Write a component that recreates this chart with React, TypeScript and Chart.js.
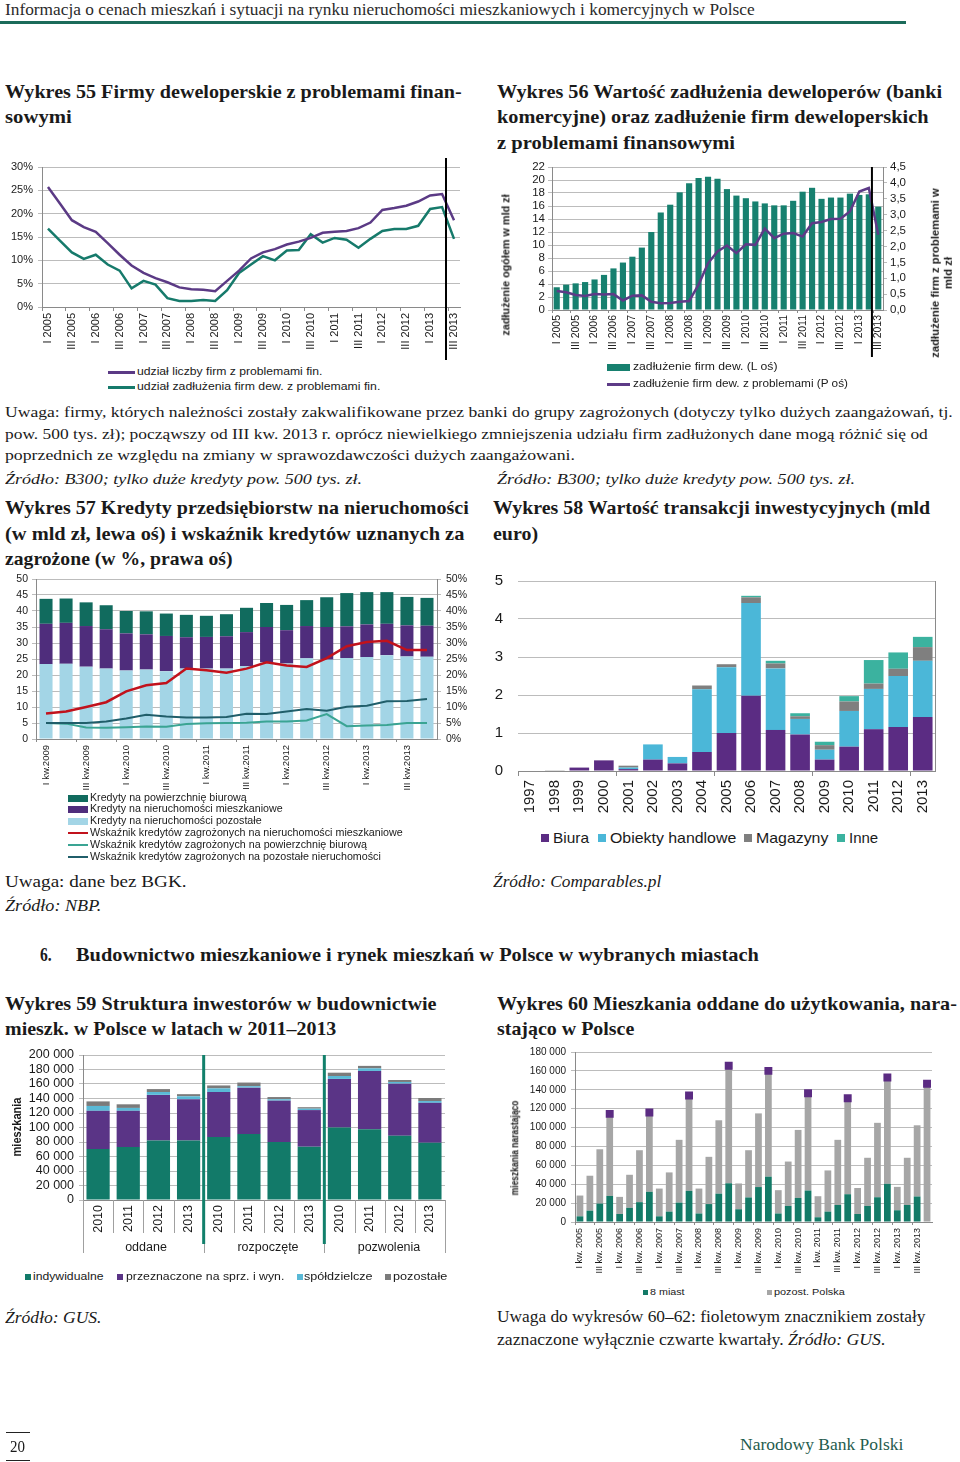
import React, { useEffect, useLayoutEffect, useRef } from 'react';
import { Chart, registerables } from 'chart.js';

Chart.register(...registerables);

const SANS = "'Liberation Sans', Arial, Helvetica, sans-serif";
const SERIF = "'Liberation Serif', 'Times New Roman', serif";
const TXT = '#1a1a1a';
const GRID = '#bcbcbc';
const AXIS = '#8a8a8a';

Chart.defaults.font.family = SANS;
Chart.defaults.color = TXT;

// ---------------- DATA ----------------
// Wykres 55 / 56 categories
const quarters0513 = [
  'I 2005', 'II 2005', 'III 2005', 'IV 2005',
  'I 2006', 'II 2006', 'III 2006', 'IV 2006',
  'I 2007', 'II 2007', 'III 2007', 'IV 2007',
  'I 2008', 'II 2008', 'III 2008', 'IV 2008',
  'I 2009', 'II 2009', 'III 2009', 'IV 2009',
  'I 2010', 'II 2010', 'III 2010', 'IV 2010',
  'I 2011', 'II 2011', 'III 2011', 'IV 2011',
  'I 2012', 'II 2012', 'III 2012', 'IV 2012',
  'I 2013', 'II 2013', 'III 2013',
];
// Wykres 55 (%)
const firmsShare55 = [25.7, 22.2, 18.6, 17.1, 16.1, 13.7, 11.2, 8.9, 7.3, 6.2, 5.3, 4.2, 3.8, 3.7, 3.4, 5.6, 7.8, 10.4, 11.7, 12.4, 13.4, 14.0, 14.8, 15.9, 16.1, 16.3, 16.9, 18.1, 20.8, 21.2, 21.7, 22.6, 23.9, 24.2, 18.6];
const debtShare55 = [16.8, 14.2, 11.7, 10.3, 11.2, 9.1, 7.8, 4.0, 5.6, 4.8, 1.9, 1.3, 1.3, 1.5, 1.3, 3.6, 7.3, 9.1, 10.9, 10.0, 12.1, 12.2, 15.6, 13.8, 14.8, 14.4, 12.7, 14.6, 16.3, 16.7, 16.7, 17.4, 21.0, 21.4, 14.6];
// Wykres 56 (mld zł)
const debtTotal56 = [3.5, 3.9, 4.1, 4.3, 4.7, 5.4, 6.4, 7.3, 8.2, 9.6, 12.0, 15.0, 16.2, 18.1, 19.5, 20.3, 20.5, 20.2, 18.6, 17.6, 17.2, 16.7, 16.4, 16.1, 16.1, 16.8, 18.2, 18.8, 17.1, 17.3, 17.3, 17.9, 17.7, 17.8, 15.9];
const debtProblem56 = [0.6, 0.56, 0.47, 0.44, 0.5, 0.49, 0.5, 0.3, 0.45, 0.46, 0.26, 0.21, 0.22, 0.26, 0.28, 0.8, 1.47, 1.84, 2.03, 1.79, 2.07, 2.05, 2.56, 2.26, 2.4, 2.42, 2.31, 2.73, 2.77, 2.86, 2.87, 3.1, 3.73, 3.84, 2.37];

// Wykres 57
const quarters57 = [
  'I kw.2009', 'II kw.2009', 'III kw.2009', 'IV kw.2009',
  'I kw.2010', 'II kw.2010', 'III kw.2010', 'IV kw.2010',
  'I kw.2011', 'II kw.2011', 'III kw.2011', 'IV kw.2011',
  'I kw.2012', 'II kw.2012', 'III kw.2012', 'IV kw.2012',
  'I kw.2013', 'II kw.2013', 'III kw.2013', 'IV kw.2013',
];
const loansOther57 = [23.4, 23.5, 22.6, 22.0, 21.4, 21.7, 21.2, 22.0, 22.0, 22.0, 22.8, 24.0, 23.6, 25.2, 24.8, 25.3, 25.6, 26.2, 25.8, 25.7];
const loansHousing57 = [12.6, 12.8, 12.7, 12.3, 11.6, 11.0, 11.0, 9.8, 9.9, 10.1, 10.6, 11.0, 10.4, 10.1, 10.2, 9.9, 10.2, 9.8, 9.7, 9.7];
const loansOffice57 = [7.8, 7.6, 7.4, 7.5, 7.0, 7.2, 7.0, 7.0, 6.6, 6.9, 7.6, 7.5, 7.9, 8.1, 9.3, 10.4, 10.1, 9.9, 8.9, 8.7];
const nplHousing57 = [8.0, 8.6, 10.0, 11.5, 14.9, 16.8, 17.5, 22.0, 21.5, 20.7, 22.0, 24.0, 23.0, 22.5, 25.3, 29.0, 30.3, 30.7, 27.8, 27.8];
const nplOffice57 = [5.0, 4.8, 3.6, 3.5, 3.7, 3.9, 3.8, 4.7, 4.9, 5.0, 5.1, 5.5, 5.5, 5.8, 7.8, 4.0, 4.2, 4.4, 5.0, 5.0];
const nplOther57 = [5.0, 5.0, 5.0, 5.5, 6.4, 7.6, 7.0, 6.7, 6.7, 6.9, 7.9, 7.8, 8.6, 9.4, 8.8, 10.1, 10.4, 11.8, 11.9, 12.5];

// Wykres 58 (mld euro)
const years58 = ['1997', '1998', '1999', '2000', '2001', '2002', '2003', '2004', '2005', '2006', '2007', '2008', '2009', '2010', '2011', '2012', '2013'];
const offices58 = [0, 0, 0.09, 0.28, 0.05, 0.3, 0.2, 0.5, 1.0, 1.98, 1.08, 0.96, 0.3, 0.64, 1.1, 1.16, 1.42];
const retail58 = [0, 0, 0, 0, 0.04, 0.4, 0.17, 1.65, 1.73, 2.44, 1.62, 0.41, 0.26, 0.94, 1.06, 1.34, 1.48];
const warehouses58 = [0, 0.02, 0, 0, 0.05, 0, 0, 0.1, 0.08, 0.15, 0.13, 0.07, 0.12, 0.25, 0.14, 0.19, 0.36];
const other58 = [0, 0, 0, 0, 0, 0, 0, 0, 0, 0.04, 0.07, 0.08, 0.09, 0.14, 0.62, 0.43, 0.27];

// Wykres 59
const years59 = ['2010', '2011', '2012', '2013', '2010', '2011', '2012', '2013', '2010', '2011', '2012', '2013'];
const groups59 = ['oddane', 'rozpoczęte', 'pozwolenia'];
const individual59 = [70300, 73000, 82000, 82000, 87000, 91000, 80000, 73500, 100000, 97500, 88700, 79000];
const forSale59 = [52700, 50000, 63000, 57000, 62000, 64000, 57000, 50500, 67000, 80500, 71800, 55000];
const cooperative59 = [6700, 4000, 4000, 4000, 5000, 2000, 2000, 2000, 4000, 3600, 2300, 2500];
const others59 = [6300, 5000, 4000, 3000, 4000, 5000, 3000, 2000, 4600, 3400, 2700, 4200];

// Wykres 60
const quarters60 = [
  'I kw. 2005', 'II kw. 2005', 'III kw. 2005', 'IV kw. 2005',
  'I kw. 2006', 'II kw. 2006', 'III kw. 2006', 'IV kw. 2006',
  'I kw. 2007', 'II kw. 2007', 'III kw. 2007', 'IV kw. 2007',
  'I kw. 2008', 'II kw. 2008', 'III kw. 2008', 'IV kw. 2008',
  'I kw. 2009', 'II kw. 2009', 'III kw. 2009', 'IV kw. 2009',
  'I kw. 2010', 'II kw. 2010', 'III kw. 2010', 'IV kw. 2010',
  'I kw. 2011', 'II kw. 2011', 'III kw. 2011', 'IV kw. 2011',
  'I kw. 2012', 'II kw. 2012', 'III kw. 2012', 'IV kw. 2012',
  'I kw. 2013', 'II kw. 2013', 'III kw. 2013', 'IV kw. 2013',
];
const cities60 = [6000, 12000, 19500, 27600, 8500, 15000, 21000, 32000, 6000, 11000, 20500, 33000, 9000, 19000, 30000, 41000, 13500, 26000, 37000, 48000, 9000, 17000, 25500, 33300, 5000, 11000, 18000, 29400, 8500, 17000, 26200, 40400, 12400, 18000, 27000, 0];
const restPoland60 = [22000, 37000, 57500, 86900, 18100, 35000, 55000, 84000, 29400, 41500, 66500, 101000, 26400, 50000, 77700, 124500, 27300, 50000, 78000, 112000, 24700, 47000, 72000, 103100, 22300, 43600, 69000, 101600, 27500, 51000, 78800, 112600, 24800, 50000, 75400, 146400];

// ---------------- COLOURS ----------------
const C55_PURPLE = '#5b3a85';
const C55_TEAL = '#167a6b';
const C56_BAR = '#17806f';
const C56_LINE = '#5d3b87';
const C57_OFFICE = '#116b5e';
const C57_HOUSING = '#4f2d7c';
const C57_OTHER = '#a3d5e6';
const C57_RED = '#c1121c';
const C57_LTEAL = '#3aa493';
const C57_DARK = '#205e6a';
const C58_OFF = '#5b2c83';
const C58_RET = '#4bb7d8';
const C58_WH = '#7f7f7f';
const C58_OTH = '#3bb29f';
const C59_IND = '#127a69';
const C59_SALE = '#5a3486';
const C59_COOP = '#5ab9d6';
const C59_OTH = '#7b7b7b';
const C60_CITY = '#137a67';
const C60_REST = '#a6a6a6';
const C60_MARK = '#5b2b82';

// ---------------- HELPERS ----------------
const thousands = (v: number) => String(Math.round(v)).replace(/\B(?=(\d{3})+(?!\d))/g, ' ');

function baseOptions(padding: any, scales: any) {
  return {
    responsive: true,
    maintainAspectRatio: false,
    animation: false,
    events: [],
    layout: { padding },
    plugins: { legend: { display: false }, tooltip: { enabled: false }, title: { display: false } },
    scales,
  };
}

function catX(height: number, size: number, tick: number, pad: number, every: number, markEvery: number, stacked = false) {
  return {
    type: 'category',
    offset: true,
    stacked,
    grid: {
      display: true,
      drawOnChartArea: false,
      offset: true,
      drawTicks: tick > 0,
      tickLength: tick,
      color: (c: any) => (typeof c.index === 'number' && c.index % markEvery === 0 ? AXIS : 'rgba(0,0,0,0)'),
    },
    border: { display: true, color: AXIS },
    ticks: {
      autoSkip: false,
      maxRotation: 90,
      minRotation: 90,
      padding: pad,
      color: TXT,
      font: { size, family: SANS },
      callback: function (this: any, v: any, i: number) {
        return i % every === 0 ? this.getLabelForValue(v) : '';
      },
    },
    afterFit: (s: any) => {
      s.height = height;
    },
  };
}

function valY(o: {
  min: number; max: number; step: number; width: number; size: number; tick: number; pad: number;
  fmt?: (v: number) => string; right?: boolean; grid?: boolean; border?: boolean; stacked?: boolean; tickColor?: string;
}) {
  return {
    type: 'linear',
    position: o.right ? 'right' : 'left',
    min: o.min,
    max: o.max,
    stacked: !!o.stacked,
    grid: {
      display: true,
      drawOnChartArea: o.grid !== false,
      color: GRID,
      tickColor: o.tickColor || GRID,
      drawTicks: o.tick > 0,
      tickLength: o.tick,
      lineWidth: 1,
    },
    border: { display: o.border !== false, color: AXIS },
    ticks: {
      autoSkip: false,
      stepSize: o.step,
      padding: o.pad,
      color: TXT,
      font: { size: o.size, family: SANS },
      callback: (v: any) => (o.fmt ? o.fmt(Number(v)) : String(v)),
    },
    afterFit: (s: any) => {
      s.width = o.width;
    },
  };
}

function vLinePlugin(labels: string[], a: string, b: string, frac: number, top: number, bottom: number) {
  return {
    id: 'vline',
    afterDatasetsDraw(chart: any) {
      const xs = chart.scales.x;
      const pa = xs.getPixelForValue(labels.indexOf(a));
      const pb = xs.getPixelForValue(labels.indexOf(b));
      const px = pa + (pb - pa) * frac;
      const ctx = chart.ctx;
      ctx.save();
      ctx.strokeStyle = '#000';
      ctx.lineWidth = 2;
      ctx.beginPath();
      ctx.moveTo(px, top);
      ctx.lineTo(px, bottom);
      ctx.stroke();
      ctx.restore();
    },
  };
}

const rightFramePlugin = {
  id: 'rframe',
  afterDraw(chart: any) {
    const a = chart.chartArea;
    const ctx = chart.ctx;
    ctx.save();
    ctx.strokeStyle = AXIS;
    ctx.lineWidth = 1;
    ctx.beginPath();
    ctx.moveTo(Math.round(a.right) + 0.5, a.top);
    ctx.lineTo(Math.round(a.right) + 0.5, a.bottom);
    ctx.stroke();
    ctx.restore();
  },
};

const groupSepPlugin = {
  id: 'groupsep',
  afterDraw(chart: any) {
    const xs = chart.scales.x;
    const a = chart.chartArea;
    const ctx = chart.ctx;
    const n = years59.length;
    const w = xs.getPixelForValue(1) - xs.getPixelForValue(0);
    const x0 = xs.getPixelForValue(0) - w / 2;
    const per = n / groups59.length;
    ctx.save();
    ctx.strokeStyle = '#a0a0a0';
    ctx.lineWidth = 1;
    for (let k = 0; k <= n; k++) {
      const px = Math.round(x0 + k * w) + 0.5;
      const len = k % per === 0 ? 53 : 33;
      ctx.beginPath();
      ctx.moveTo(px, a.bottom);
      ctx.lineTo(px, a.bottom + len);
      ctx.stroke();
    }
    ctx.strokeStyle = '#11806b';
    ctx.lineWidth = 3;
    for (let g = 1; g < groups59.length; g++) {
      const px = x0 + g * per * w;
      ctx.beginPath();
      ctx.moveTo(px, a.top);
      ctx.lineTo(px, a.bottom + 44);
      ctx.stroke();
    }
    ctx.restore();
  },
};

// ---------------- CHART CONFIGS ----------------
function make55(): any {
  return {
    type: 'line',
    data: {
      labels: quarters0513,
      datasets: [
        { data: firmsShare55, borderColor: C55_PURPLE, borderWidth: 2.5, pointRadius: 0, tension: 0, fill: false },
        { data: debtShare55, borderColor: C55_TEAL, borderWidth: 2.5, pointRadius: 0, tension: 0, fill: false },
      ],
    },
    options: baseOptions(
      { top: 12, right: 20, left: 0, bottom: 0 },
      {
        x: catX(58, 11, 4, 2, 2, 2),
        y: valY({ min: 0, max: 30, step: 5, width: 42, size: 11, tick: 4, pad: 5, fmt: (v) => v + '%' }),
      }
    ),
    plugins: [vLinePlugin(quarters0513, 'II 2013', 'III 2013', 0.33, 3, 205)],
  };
}

function make56(): any {
  return {
    type: 'bar',
    data: {
      labels: quarters0513,
      datasets: [
        { type: 'line', data: debtProblem56, yAxisID: 'y1', borderColor: C56_LINE, borderWidth: 2.5, pointRadius: 0, tension: 0, order: 0, fill: false },
        { type: 'bar', data: debtTotal56, yAxisID: 'y', backgroundColor: C56_BAR, barPercentage: 0.65, categoryPercentage: 1, order: 1 },
      ],
    },
    options: baseOptions(
      { top: 12, right: 0, left: 0, bottom: 0 },
      {
        x: catX(55, 10.5, 3, 2, 2, 2),
        y: valY({ min: 0, max: 22, step: 2, width: 62, size: 11.5, tick: 4, pad: 3 }),
        y1: valY({ min: 0, max: 4.5, step: 0.5, width: 77, size: 11.5, tick: 4, pad: 3, right: true, grid: false, fmt: (v) => v.toFixed(1).replace('.', ',') }),
      }
    ),
    plugins: [vLinePlugin(quarters0513, 'II 2013', 'III 2013', 0.33, 12, 202)],
  };
}

function make57(): any {
  const bar = { barPercentage: 0.65, categoryPercentage: 1, order: 1, yAxisID: 'y' };
  const line = { type: 'line', yAxisID: 'y1', pointRadius: 0, tension: 0, order: 0, fill: false };
  return {
    type: 'bar',
    data: {
      labels: quarters57,
      datasets: [
        { ...bar, type: 'bar', data: loansOther57, backgroundColor: C57_OTHER },
        { ...bar, type: 'bar', data: loansHousing57, backgroundColor: C57_HOUSING },
        { ...bar, type: 'bar', data: loansOffice57, backgroundColor: C57_OFFICE },
        { ...line, data: nplOther57, borderColor: C57_DARK, borderWidth: 2 },
        { ...line, data: nplOffice57, borderColor: C57_LTEAL, borderWidth: 2 },
        { ...line, data: nplHousing57, borderColor: C57_RED, borderWidth: 2.5 },
      ],
    },
    options: baseOptions(
      { top: 12, right: 0, left: 0, bottom: 0 },
      {
        x: catX(56, 9.5, 3, 3, 2, 2, true),
        y: valY({ min: 0, max: 50, step: 5, width: 36, size: 10.5, tick: 4, pad: 4, stacked: true }),
        y1: valY({ min: 0, max: 50, step: 5, width: 43, size: 10.5, tick: 4, pad: 5, right: true, grid: false, fmt: (v) => v + '%' }),
      }
    ),
  };
}

function make58(): any {
  const bar = { barPercentage: 0.8, categoryPercentage: 1 };
  return {
    type: 'bar',
    data: {
      labels: years58,
      datasets: [
        { ...bar, data: offices58, backgroundColor: C58_OFF },
        { ...bar, data: retail58, backgroundColor: C58_RET },
        { ...bar, data: warehouses58, backgroundColor: C58_WH },
        { ...bar, data: other58, backgroundColor: C58_OTH },
      ],
    },
    options: baseOptions(
      { top: 12, right: 25, left: 0, bottom: 0 },
      {
        x: catX(54, 15, 5, 4, 1, 4, true),
        y: valY({ min: 0, max: 5, step: 1, width: 38, size: 15, tick: 13, pad: 2, stacked: true, border: false, tickColor: 'rgba(0,0,0,0)' }),
      }
    ),
    plugins: [rightFramePlugin],
  };
}

function make59(): any {
  const bar = { barPercentage: 0.77, categoryPercentage: 1 };
  return {
    type: 'bar',
    data: {
      labels: years59,
      datasets: [
        { ...bar, data: individual59, backgroundColor: C59_IND },
        { ...bar, data: forSale59, backgroundColor: C59_SALE },
        { ...bar, data: cooperative59, backgroundColor: C59_COOP },
        { ...bar, data: others59, backgroundColor: C59_OTH },
      ],
    },
    options: baseOptions(
      { top: 13, right: 35, left: 0, bottom: 0 },
      {
        x: {
          type: 'category',
          offset: true,
          stacked: true,
          grid: { display: false, drawTicks: false, tickLength: 0 },
          border: { display: true, color: AXIS },
          ticks: { autoSkip: false, maxRotation: 90, minRotation: 90, padding: 5, color: TXT, font: { size: 12.5, family: SANS } },
          afterFit: (s: any) => {
            s.height = 60;
          },
        },
        y: valY({ min: 0, max: 200000, step: 20000, width: 83, size: 12.5, tick: 4, pad: 5, stacked: true, fmt: thousands }),
      }
    ),
    plugins: [groupSepPlugin],
  };
}

function make60(): any {
  const bar = { type: 'bar', barPercentage: 0.68, categoryPercentage: 1, order: 1 };
  const markers60 = quarters60.map((q, i) => (q.startsWith('IV') ? cities60[i] + restPoland60[i] : null));
  return {
    type: 'bar',
    data: {
      labels: quarters60,
      datasets: [
        { ...bar, data: cities60, backgroundColor: C60_CITY },
        { ...bar, data: restPoland60, backgroundColor: C60_REST },
        {
          type: 'line', data: markers60, showLine: false, stack: 'markers', order: 0,
          pointStyle: 'rect', pointRadius: 5.6, pointBackgroundColor: C60_MARK, pointBorderColor: C60_MARK, pointBorderWidth: 0,
        },
      ],
    },
    options: baseOptions(
      { top: 11, right: 28, left: 0, bottom: 0 },
      {
        x: catX(56, 9, 3, 3, 2, 2, true),
        y: valY({ min: 0, max: 180000, step: 20000, width: 85, size: 10, tick: 4, pad: 5, stacked: true, fmt: thousands }),
      }
    ),
  };
}

// ---------------- COMPONENTS ----------------
function ChartBox({ x, y, w, h, make }: { x: number; y: number; w: number; h: number; make: () => any }) {
  const ref = useRef<HTMLCanvasElement>(null);
  useEffect(() => {
    if (!ref.current) return;
    const c = new Chart(ref.current, make());
    return () => c.destroy();
  }, []);
  return (
    <div style={{ position: 'absolute', left: x, top: y, width: w, height: h }}>
      <canvas ref={ref} />
    </div>
  );
}

function T({
  x, y, w, size, bold, italic, sans, color, children,
}: {
  x: number; y: number; w?: number; size: number; bold?: boolean; italic?: boolean; sans?: boolean; color?: string; children: any;
}) {
  const ref = useRef<HTMLSpanElement>(null);
  useLayoutEffect(() => {
    const el = ref.current;
    if (!el || !w) return;
    const natural = el.offsetWidth;
    if (natural > 0) el.style.transform = `scaleX(${(w / natural).toFixed(4)})`;
  });
  return (
    <span
      ref={ref}
      style={{
        position: 'absolute',
        left: x,
        top: y - size * 0.6,
        fontSize: size,
        lineHeight: `${size * 1.2}px`,
        fontFamily: sans ? SANS : SERIF,
        fontWeight: bold ? 700 : 400,
        fontStyle: italic ? 'italic' : 'normal',
        color: color || TXT,
        whiteSpace: 'nowrap',
        transformOrigin: '0 50%',
        display: 'inline-block',
      }}
    >
      {children}
    </span>
  );
}

function VText({ cx, cy, size, len, lines }: { cx: number; cy: number; size: number; len?: number; lines: string[] }) {
  const ref = useRef<HTMLDivElement>(null);
  useLayoutEffect(() => {
    const el = ref.current;
    if (!el) return;
    let k = 1;
    if (len) {
      const natural = el.offsetWidth;
      if (natural > 0) k = len / natural;
    }
    el.style.transform = `translate(-50%, -50%) rotate(-90deg) scaleX(${k.toFixed(4)})`;
  });
  return (
    <div
      ref={ref}
      style={{
        position: 'absolute',
        left: cx,
        top: cy,
        fontSize: size,
        lineHeight: `${size * 1.15}px`,
        fontFamily: SANS,
        fontWeight: 700,
        color: TXT,
        whiteSpace: 'nowrap',
        textAlign: 'center',
        transform: 'translate(-50%, -50%) rotate(-90deg)',
      }}
    >
      {lines.map((l, i) => (
        <div key={i}>{l}</div>
      ))}
    </div>
  );
}

function Box({ x, y, w, h, color }: { x: number; y: number; w: number; h: number; color: string }) {
  return <div style={{ position: 'absolute', left: x, top: y - h / 2, width: w, height: h, background: color }} />;
}

function Rule({ x, y, w, h, color }: { x: number; y: number; w: number; h: number; color: string }) {
  return <div style={{ position: 'absolute', left: x, top: y, width: w, height: h, background: color }} />;
}

export default function App() {
  const TS = 19.5; // title size
  return (
    <div
      style={{
        position: 'absolute', left: 0, top: 0, width: 960, height: 1462,
        background: '#fff', overflow: 'hidden', fontFamily: SERIF, color: TXT,
      }}
    >
      {/* header */}
      <T x={5} y={10} w={750} size={16} color="#2a2a2a">
        Informacja o cenach mieszkań i sytuacji na rynku nieruchomości mieszkaniowych i komercyjnych w Polsce
      </T>
      <Rule x={0} y={21} w={906} h={3} color="#1b6b5a" />

      {/* titles 55 / 56 */}
      <T x={5} y={92} w={457} size={TS} bold>Wykres 55 Firmy deweloperskie z problemami finan-</T>
      <T x={5} y={117} w={67} size={TS} bold>sowymi</T>
      <T x={497} y={92} w={445} size={TS} bold>Wykres 56 Wartość zadłużenia deweloperów (banki</T>
      <T x={497} y={117} w={431} size={TS} bold>komercyjne) oraz zadłużenie firm deweloperskich</T>
      <T x={497} y={143} w={238} size={TS} bold>z problemami finansowymi</T>

      {/* chart 55 */}
      <ChartBox x={0} y={155} w={480} h={210} make={make55} />
      <Rule x={108} y={371} w={27} h={2.5} color={C55_PURPLE} />
      <T x={137} y={372} w={186} size={11} sans>udział liczby firm z problemami fin.</T>
      <Rule x={108} y={386} w={27} h={2.5} color={C55_TEAL} />
      <T x={137} y={387} w={243} size={11} sans>udział zadłużenia firm dew. z problemami fin.</T>

      {/* chart 56 */}
      <ChartBox x={490} y={155} w={470} h={210} make={make56} />
      <VText cx={506} cy={265} size={11.5} len={141} lines={['zadłużenie ogółem w mld zł']} />
      <VText cx={942} cy={273} size={11.5} len={170} lines={['zadłużenie firm z problemami w', 'mld zł']} />
      <Box x={607} y={367} w={23} h={7} color={C56_BAR} />
      <T x={633} y={367} w={144} size={11} sans>zadłużenie firm dew. (L oś)</T>
      <Rule x={607} y={383} w={23} h={2.5} color={C56_LINE} />
      <T x={633} y={384} w={215} size={11} sans>zadłużenie firm dew. z problemami (P oś)</T>

      {/* notes under 55/56 */}
      <T x={5} y={412} w={948} size={15.5}>
        Uwaga: firmy, których należności zostały zakwalifikowane przez banki do grupy zagrożonych (dotyczy tylko dużych zaangażowań, tj.
      </T>
      <T x={5} y={434} w={923} size={15.5}>
        pow. 500 tys. zł); począwszy od III kw. 2013 r. oprócz niewielkiego zmniejszenia udziału firm zadłużonych dane mogą różnić się od
      </T>
      <T x={5} y={455} w={570} size={15.5}>
        poprzednich ze względu na zmiany w sprawozdawczości dużych zaangażowani.
      </T>
      <T x={5} y={479} w={357} size={15.5} italic>Źródło: B300; tylko duże kredyty pow. 500 tys. zł.</T>
      <T x={497} y={479} w={358} size={15.5} italic>Źródło: B300; tylko duże kredyty pow. 500 tys. zł.</T>

      {/* titles 57 / 58 */}
      <T x={5} y={508} w={464} size={TS} bold>Wykres 57 Kredyty przedsiębiorstw na nieruchomości</T>
      <T x={5} y={534} w={459} size={TS} bold>(w mld zł, lewa oś) i wskaźnik kredytów uznanych za</T>
      <T x={5} y={559} w={227} size={TS} bold>zagrożone (w %, prawa oś)</T>
      <T x={493} y={508} w={437} size={TS} bold>Wykres 58 Wartość transakcji inwestycyjnych (mld</T>
      <T x={493} y={534} w={45} size={TS} bold>euro)</T>

      {/* chart 57 */}
      <ChartBox x={0} y={567} w={480} h={228} make={make57} />
      <Box x={68} y={798} w={20} h={7} color={C57_OFFICE} />
      <T x={90} y={798} w={157} size={10} sans>Kredyty na powierzchnię biurową</T>
      <Box x={68} y={809} w={20} h={7} color={C57_HOUSING} />
      <T x={90} y={809} w={193} size={10} sans>Kredyty na nieruchomości mieszkaniowe</T>
      <Box x={68} y={821} w={20} h={7} color={C57_OTHER} />
      <T x={90} y={821} w={172} size={10} sans>Kredyty na nieruchomości pozostałe</T>
      <Box x={68} y={833} w={20} h={2.5} color={C57_RED} />
      <T x={90} y={833} w={313} size={10} sans>Wskaźnik kredytów zagrożonych na nieruchomości mieszkaniowe</T>
      <Box x={68} y={845} w={20} h={2} color={C57_LTEAL} />
      <T x={90} y={845} w={277} size={10} sans>Wskaźnik kredytów zagrożonych na powierzchnię biurową</T>
      <Box x={68} y={857} w={20} h={2} color={C57_DARK} />
      <T x={90} y={857} w={291} size={10} sans>Wskaźnik kredytów zagrożonych na pozostałe nieruchomości</T>

      {/* chart 58 */}
      <ChartBox x={480} y={569} w={480} h={256} make={make58} />
      <Box x={541} y={838} w={8} h={8} color={C58_OFF} />
      <T x={553} y={838} w={36} size={15} sans>Biura</T>
      <Box x={598} y={838} w={8} h={8} color={C58_RET} />
      <T x={610} y={838} w={126} size={15} sans>Obiekty handlowe</T>
      <Box x={744} y={838} w={8} h={8} color={C58_WH} />
      <T x={756} y={838} w={72} size={15} sans>Magazyny</T>
      <Box x={837} y={838} w={8} h={8} color={C58_OTH} />
      <T x={849} y={838} w={29} size={15} sans>Inne</T>

      {/* notes 57/58 */}
      <T x={5} y={882} w={181} size={17}>Uwaga: dane bez BGK.</T>
      <T x={5} y={906} w={96} size={17} italic>Źródło: NBP.</T>
      <T x={493} y={882} w={168} size={17} italic>Źródło: Comparables.pl</T>

      {/* section heading */}
      <T x={40} y={955} w={12} size={TS} bold>6.</T>
      <T x={76} y={955} w={683} size={TS} bold>Budownictwo mieszkaniowe i rynek mieszkań w Polsce w wybranych miastach</T>

      {/* titles 59 / 60 */}
      <T x={5} y={1004} w={432} size={TS} bold>Wykres 59 Struktura inwestorów w budownictwie</T>
      <T x={5} y={1029} w={331} size={TS} bold>mieszk. w Polsce w latach w 2011–2013</T>
      <T x={497} y={1004} w={460} size={TS} bold>Wykres 60 Mieszkania oddane do użytkowania, nara-</T>
      <T x={497} y={1029} w={137} size={TS} bold>stająco w Polsce</T>

      {/* chart 59 */}
      <ChartBox x={0} y={1042} w={480} h={218} make={make59} />
      <VText cx={18} cy={1127} size={12} len={59} lines={['mieszkania']} />
      <div style={{ position: 'absolute', left: 86, top: 1240, width: 120, textAlign: 'center', fontFamily: SANS, fontSize: 12.5, color: TXT }}>{groups59[0]}</div>
      <div style={{ position: 'absolute', left: 208, top: 1240, width: 120, textAlign: 'center', fontFamily: SANS, fontSize: 12.5, color: TXT }}>{groups59[1]}</div>
      <div style={{ position: 'absolute', left: 329, top: 1240, width: 120, textAlign: 'center', fontFamily: SANS, fontSize: 12.5, color: TXT }}>{groups59[2]}</div>
      <Box x={25} y={1277} w={6} h={6} color={C59_IND} />
      <T x={33} y={1277} w={71} size={11.5} sans>indywidualne</T>
      <Box x={117} y={1277} w={6} h={6} color={C59_SALE} />
      <T x={126} y={1277} w={158} size={11.5} sans>przeznaczone na sprz. i wyn.</T>
      <Box x={297} y={1277} w={6} h={6} color={C59_COOP} />
      <T x={304} y={1277} w={69} size={11.5} sans>spółdzielcze</T>
      <Box x={385} y={1277} w={6} h={6} color={C59_OTH} />
      <T x={393} y={1277} w={54} size={11.5} sans>pozostałe</T>

      {/* chart 60 */}
      <ChartBox x={490} y={1041} w={470} h={237} make={make60} />
      <VText cx={515} cy={1148} size={10} len={95} lines={['mieszkania narastająco']} />
      <Box x={643} y={1292} w={5} h={5} color={C60_CITY} />
      <T x={650} y={1292} w={35} size={9.5} sans>8 miast</T>
      <Box x={767} y={1292} w={5} h={5} color={C60_REST} />
      <T x={774} y={1292} w={71} size={9.5} sans>pozost. Polska</T>

      {/* bottom notes */}
      <T x={5} y={1318} w={97} size={17} italic>Źródło: GUS.</T>
      <T x={497} y={1317} w={428} size={16}>Uwaga do wykresów 60–62: fioletowym znacznikiem zostały</T>
      <T x={497} y={1340} w={388} size={16}>
        zaznaczone wyłącznie czwarte kwartały. <i>Źródło: GUS</i>.
      </T>

      {/* footer */}
      <Rule x={6} y={1432} w={24} h={1} color="#222" />
      <T x={10} y={1447} w={15} size={16}>20</T>
      <Rule x={6} y={1460} w={24} h={1} color="#222" />
      <T x={740} y={1445} w={163} size={16} color="#1f5c4e">Narodowy Bank Polski</T>
    </div>
  );
}
